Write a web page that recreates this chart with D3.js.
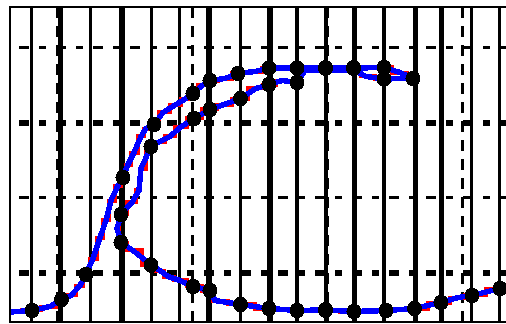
<!DOCTYPE html>
<html>
<head>
<meta charset="utf-8">
<script src="https://cdn.jsdelivr.net/npm/d3@7"></script>
<style>
  html, body { margin: 0; padding: 0; background: #fff; overflow: hidden; }
  svg { display: block; }
</style>
</head>
<body>
<svg id="chart" width="506" height="324"></svg>
<script>
// Forward sweep (rising branch, left to right across the top)
const upX = [0.1, 2.2, 4.0, 5.15, 6.1, 7.0, 7.6, 8.3, 9.0, 9.6, 10.1, 10.8, 11.3, 11.8, 12.4, 13.1, 13.6, 14.4,
             15.3, 16.6, 17.6, 18.3, 19.2, 20.0, 21.5, 22.8, 24.5, 25.9, 28.7, 31.55, 34.35, 37.4, 39.0, 40.3];
const upY = [0.0947, 0.0987, 0.1093, 0.128, 0.1387, 0.1653, 0.1947, 0.2373, 0.2933, 0.3387, 0.392, 0.432, 0.4533,
             0.488, 0.52, 0.5627, 0.584, 0.5947, 0.6267, 0.648, 0.664, 0.6773, 0.6987, 0.712, 0.7173, 0.7307, 0.736,
             0.7453, 0.7453, 0.7453, 0.7453, 0.7467, 0.7333, 0.7173];
const upMark = [0, 1, 0, 1, 0, 0, 1, 0, 0, 0, 0, 0, 1, 0, 0, 0, 0, 1, 0, 0, 0, 1, 0, 1, 0, 1, 0, 1, 1, 1, 1, 1, 0, 1];

// Return sweep (back along the top, down, then right along the bottom)
const downX = [40.3, 39.0, 37.4, 35.6, 34.5, 31.6, 29.5, 28.7, 27.2, 25.9, 24.6, 23.05, 21.4, 20.0, 18.4, 17.0, 16.0,
               15.0, 14.1, 13.1, 12.9, 12.2, 11.1, 10.7, 11.1, 12.3, 14.1, 15.0, 15.8, 17.0, 18.3, 20.0, 20.5, 23.05,
               25.9, 28.7, 31.55, 34.4, 37.6, 40.45, 43.1, 44.8, 46.2, 49.0];
const downY = [0.7173, 0.7173, 0.716, 0.7227, 0.7387, 0.7387, 0.7387, 0.7067, 0.712, 0.7013, 0.6907, 0.664, 0.648,
               0.6347, 0.6107, 0.5867, 0.5627, 0.5493, 0.536, 0.4773, 0.4187, 0.3867, 0.3547, 0.3173, 0.28, 0.2587,
               0.22, 0.2053, 0.1893, 0.1787, 0.1627, 0.152, 0.1253, 0.1147, 0.104, 0.0987, 0.1, 0.096, 0.0987, 0.104,
               0.12, 0.1333, 0.1387, 0.1573];
const downMark = [0, 0, 1, 0, 0, 0, 0, 1, 0, 1, 0, 1, 0, 1, 1, 0, 0, 0, 1, 0, 0, 0, 1, 0, 1, 0, 1, 0, 0, 0, 1, 1, 0, 1,
                  1, 1, 1, 1, 1, 1, 1, 0, 1, 1];

// Sample guides (solid verticals) and major grid ticks (dashed)
const guideX = [2.15, 5.05, 8.05, 11.2, 14.15, 16.95, 19.9, 23.05, 26.0, 28.7, 31.6, 34.45, 37.4, 40.55, 43.15, 46.15, 48.95];
const majorX = [4.75, 18.25, 31.75, 45.25];
const majorY = [0.2, 0.4, 0.6, 0.8];

// Stroke weights of the guides, in draw order
const guideW = [3, 5, 3, 6, 3, 3, 6, 3, 6, 4, 4, 5, 4, 5, 5, 3, 3];
const majorYW = [6, 3, 6, 3];

const svg = d3.select("#chart");
const W = 506, H = 324;
const x = d3.scaleLinear().domain([0, 50]).range([10, 510]);
const y = d3.scaleLinear().domain([0.068, 0.908]).range([322, 7]);
const [x0] = x.range();
const [yB, yT] = y.range();

svg.append("rect").attr("width", W).attr("height", H).attr("fill", "#fff");

const grid = svg.append("g").attr("shape-rendering", "crispEdges").attr("stroke", "#000").attr("fill", "none");

// dashed horizontal grid
grid.selectAll("line.hy").data(majorY).join("line")
  .attr("class", "hy")
  .attr("x1", x0).attr("x2", W + 20)
  .attr("y1", d => y(d)).attr("y2", d => y(d))
  .attr("stroke-width", (d, i) => majorYW[i])
  .attr("stroke-dasharray", "10,10,7,10")
  .attr("stroke-dashoffset", 28);

// dashed vertical grid
grid.selectAll("line.vx").data(majorX).join("line")
  .attr("class", "vx")
  .attr("x1", d => x(d)).attr("x2", d => x(d))
  .attr("y1", yT).attr("y2", yB)
  .attr("stroke-width", 3)
  .attr("stroke-dasharray", "11,8")
  .attr("stroke-dashoffset", 0);

// solid sample guides
grid.selectAll("line.g").data(guideX).join("line")
  .attr("class", "g")
  .attr("x1", d => x(d)).attr("x2", d => x(d))
  .attr("y1", yT).attr("y2", yB)
  .attr("stroke-width", (d, i) => guideW[i]);

// frame (left, top, bottom)
grid.append("path")
  .attr("d", `M${W + 20},${yT}H${x0}V${yB}H${W + 20}`)
  .attr("stroke-width", 2);

// curves: stepped trace underneath, linear trace on top
const upPts = upX.map((v, i) => ({ x: v, y: upY[i], m: upMark[i] }));
const downPts = downX.map((v, i) => ({ x: v, y: downY[i], m: downMark[i] }));
const stepLine = d3.line().x(d => x(d.x)).y(d => y(d.y)).curve(d3.curveStep);
const line = d3.line().x(d => x(d.x)).y(d => y(d.y));
const curves = svg.append("g").attr("fill", "none").attr("stroke-linejoin", "miter").attr("shape-rendering", "crispEdges");

[upPts, downPts].forEach(pts => {
  curves.append("path").datum(pts).attr("d", stepLine)
    .attr("stroke", "#ff0000").attr("stroke-width", 4);
});
[upPts, downPts].forEach(pts => {
  curves.append("path").datum(pts).attr("d", line)
    .attr("stroke", "#0000ff").attr("stroke-width", 5.5);
});

// markers
const marks = upPts.concat(downPts).filter(d => d.m);
svg.append("g").attr("shape-rendering", "crispEdges")
  .selectAll("ellipse").data(marks).join("ellipse")
  .attr("cx", d => x(d.x)).attr("cy", d => y(d.y))
  .attr("rx", 7.5).attr("ry", 8)
  .attr("fill", "#000");
</script>
</body>
</html>
